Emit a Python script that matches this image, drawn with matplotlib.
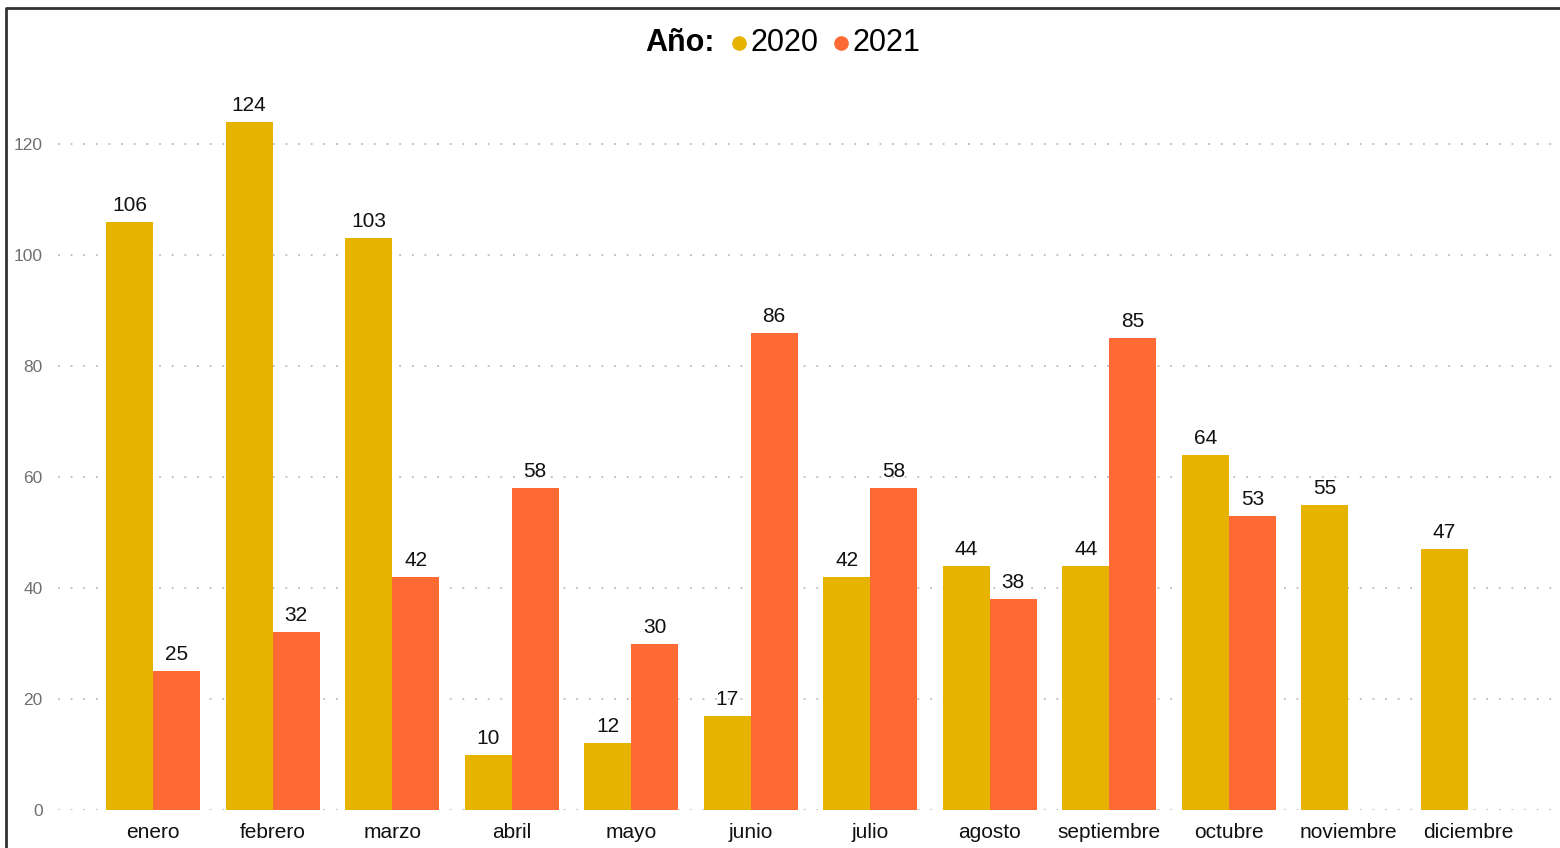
import matplotlib.pyplot as plt
import numpy as np
from matplotlib.lines import Line2D

plt.rcParams['font.family'] = ['Liberation Sans', 'DejaVu Sans']

meses = ['enero', 'febrero', 'marzo', 'abril', 'mayo', 'junio', 'julio',
         'agosto', 'septiembre', 'octubre', 'noviembre', 'diciembre']
valores_2020 = [106, 124, 103, 10, 12, 17, 42, 44, 44, 64, 55, 47]
valores_2021 = [25, 32, 42, 58, 30, 86, 58, 38, 85, 53, None, None]

color_2020 = '#E5B300'
color_2021 = '#FD6A33'

fig = plt.figure(figsize=(15.6, 8.48), dpi=100)
ax = fig.add_axes([58 / 1560, 38 / 848, 1 - 58 / 1560, 721.5 / 848])

x = np.arange(len(meses))
w = 0.393

for i, (v1, v2) in enumerate(zip(valores_2020, valores_2021)):
    if v1 is not None:
        ax.bar(x[i] - w / 2, v1, w, color=color_2020)
        ax.annotate(str(v1), (x[i] - w / 2, v1), xytext=(0, 5), textcoords='offset points',
                    ha='center', va='bottom', fontsize=15, color='#111111')
    if v2 is not None:
        ax.bar(x[i] + w / 2, v2, w, color=color_2021)
        ax.annotate(str(v2), (x[i] + w / 2, v2), xytext=(0, 5), textcoords='offset points',
                    ha='center', va='bottom', fontsize=15, color='#111111')

ax.set_xlim(-0.795, 11.77)
ax.set_ylim(0, 130)
ax.set_yticks([0, 20, 40, 60, 80, 100, 120])
ax.set_xticks(x)
ax.set_xticklabels(meses, fontsize=15, color='#111111')
ax.tick_params(axis='y', labelsize=12.5, labelcolor='#707070', length=0, pad=11)
ax.tick_params(axis='x', length=0, pad=9)
ax.yaxis.grid(True, linestyle=(0, (1, 6)), color='#BBBBBB', linewidth=1.3)
ax.set_axisbelow(True)
for s in ax.spines.values():
    s.set_visible(False)

# leyenda arriba
ly = 1 - 43 / 848
fig.text(645 / 1560, ly, 'Año:', fontsize=22, fontweight='bold', ha='left', va='center')
fig.add_artist(Line2D([739 / 1560], [ly], marker='o', markersize=9.5, color=color_2020,
                      transform=fig.transFigure))
fig.text(751 / 1560, ly, '2020', fontsize=22, ha='left', va='center')
fig.add_artist(Line2D([841 / 1560], [ly], marker='o', markersize=9.5, color=color_2021,
                      transform=fig.transFigure))
fig.text(853 / 1560, ly, '2021', fontsize=22, ha='left', va='center')

# borde
fig.add_artist(Line2D([6 / 1560, 6 / 1560, 1.0], [0, 1 - 8 / 848, 1 - 8 / 848],
                      color='#333333', linewidth=2, transform=fig.transFigure))

plt.savefig('out.png', dpi=100)
